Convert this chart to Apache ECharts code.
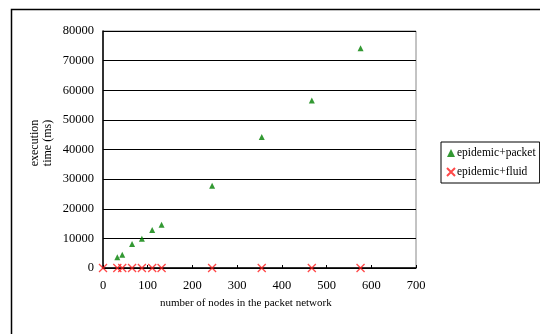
<!DOCTYPE html>
<html>
<head>
<meta charset="utf-8">
<script src="https://cdn.jsdelivr.net/npm/echarts@6/dist/echarts.min.js"></script>
<style>
  html, body { margin: 0; padding: 0; background: #fff; }
  #chart { width: 540px; height: 334px; }
</style>
</head>
<body>
<div id="chart"></div>
<script>
  // nodes in the packet network
  var packetNodes = [32, 43, 65, 87, 110, 131, 244, 355, 467, 576];
  // execution time (ms), epidemic+packet
  var packetTime = [3600, 4500, 8100, 9900, 12800, 14600, 27800, 44200, 56500, 74200];
  var fluidNodes = [0, 32, 43, 65, 87, 110, 131, 244, 355, 467, 576];
  var fluidTime = [0, 0, 0, 0, 0, 0, 0, 0, 0, 0, 0];
  var xTicks = [0, 100, 200, 300, 400, 500, 600, 700];
  var yTicks = [0, 10000, 20000, 30000, 40000, 50000, 60000, 70000, 80000];

  var font = 'Liberation Serif';
  var cross = 'path://M0,0L10,10M10,0L0,10';

  var myChart = echarts.init(document.getElementById('chart'));
  var option = {
    animation: false,
    textStyle: { fontFamily: font },
    grid: {
      left: 103, top: 31, width: 313, height: 237,
      show: true, borderColor: '#888', borderWidth: 1
    },
    legend: {
      orient: 'vertical',
      left: 441, top: 142,
      padding: [5, 4, 5, 5],
      itemGap: 7,
      itemWidth: 8, itemHeight: 8,
      borderColor: '#000', borderWidth: 1,
      backgroundColor: '#fff',
      textStyle: { fontFamily: font, fontSize: 11.5, color: '#000', padding: [0, 0, 0, -3] },
      data: ['epidemic+packet', 'epidemic+fluid']
    },
    xAxis: {
      type: 'value',
      min: xTicks[0], max: xTicks[xTicks.length - 1], interval: 100,
      axisLine: { lineStyle: { color: '#000', width: 1.5 } },
      axisTick: { show: true, inside: true, length: 3, lineStyle: { color: '#000' } },
      axisLabel: { color: '#000', fontSize: 12.5, margin: 11 },
      splitLine: { show: false }
    },
    yAxis: {
      type: 'value',
      min: yTicks[0], max: yTicks[yTicks.length - 1], interval: 10000,
      axisLine: { show: true, lineStyle: { color: '#000', width: 1.5 } },
      axisTick: { show: false },
      axisLabel: { color: '#000', fontSize: 12.5, margin: 9, formatter: function (v) { return String(v); } },
      splitLine: { show: true, lineStyle: { color: '#000', width: 1 } }
    },
    graphic: [
      {
        type: 'rect', silent: true, z: -1,
        shape: { x: 11.5, y: 9.5, width: 540, height: 340 },
        style: { fill: null, stroke: '#000', lineWidth: 1.5 }
      },
      {
        type: 'text', left: 160, top: 298,
        style: { text: 'number of nodes in the packet network', font: '11px ' + font, fill: '#000' }
      },
      {
        type: 'text', x: 41, y: 143, rotation: Math.PI / 2,
        style: {
          text: 'execution\ntime (ms)', font: '12px ' + font, fill: '#000',
          align: 'center', verticalAlign: 'middle', lineHeight: 13
        }
      }
    ],
    series: [
      {
        name: 'epidemic+packet',
        type: 'scatter',
        symbol: 'triangle',
        symbolSize: 6,
        itemStyle: { color: '#008000' },
        data: packetNodes.map(function (n, i) { return [n, packetTime[i]]; })
      },
      {
        name: 'epidemic+fluid',
        type: 'scatter',
        symbol: cross,
        symbolSize: 8,
        itemStyle: { color: '#ff1a1a', borderColor: '#ff1a1a', borderWidth: 1.3 },
        data: fluidNodes.map(function (n, i) { return [n, fluidTime[i]]; })
      }
    ]
  };
  myChart.setOption(option);
</script>
</body>
</html>
